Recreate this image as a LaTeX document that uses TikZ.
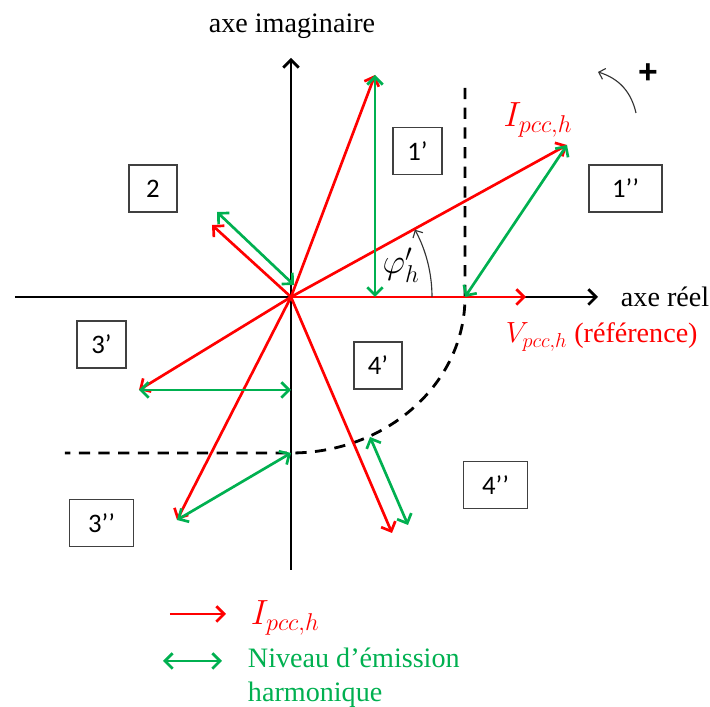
\documentclass[tikz,border=0pt]{standalone}
\usepackage{fontspec}
\setmainfont{Liberation Serif}
\newfontfamily\zonefont{Carlito}
\newfontfamily\signfont{Liberation Sans}
\usetikzlibrary{arrows.meta}
\colorlet{courant}{red}
\definecolor{emis}{RGB}{0,176,80}
\tikzset{
  barb/.tip={Straight Barb[length=5.5pt,width=11pt]},
  vec/.style={draw=courant,line width=1.9pt,-barb},
  emi/.style={draw=emis,line width=1.9pt,barb-barb},
  axe/.style={draw=black,line width=1.9pt,-barb},
  bound/.style={draw=black,line width=2pt,dash pattern=on 8pt off 6pt},
  thinarr/.style={draw=black!80,line width=0.8pt,-{Straight Barb[length=4pt,width=8pt]}},
  zone/.style={draw=black!75,line width=0.9pt,fill=white,inner sep=0pt,
    minimum width=#1,minimum height=33.4pt,font=\zonefont\fontsize{19}{22}\selectfont},
  mlab/.style={font=\fontsize{23}{26}\selectfont}
}

\begin{document}
\begin{tikzpicture}[x=0.025cm,y=0.025cm,font=\fontsize{20}{24}\selectfont]
  \useasboundingbox (-291,-410) rectangle (419,297);
  % axes
  \coordinate (O) at (0,0);
  \coordinate (xa) at (-276,0); \coordinate (xb) at (307,0);
  \coordinate (ya) at (0,-273); \coordinate (yb) at (0,239);
  \draw[axe] (xa) -- (xb);
  \draw[axe] (ya) -- (yb);
  \node (ylab) at (1,271) {axe imaginaire};
  \node[anchor=west] (xlab) at (325,0) {axe r\'eel};
  % limite du niveau d'emission
  \coordinate (dtop) at (174,209); \coordinate (dmid) at (174,0);
  \coordinate (dleft) at (-226,-156);
  \draw[bound] (dtop) -- (dmid) arc[start angle=0,end angle=-90,x radius=174,y radius=156] -- (dleft);
  % courants
  \coordinate (i1) at (84,222);   \coordinate (iI) at (276,152);
  \coordinate (iV) at (235,0);    \coordinate (i2) at (-79,72);
  \coordinate (i3a) at (-152,-93); \coordinate (i3b) at (-114,-223);
  \coordinate (i4) at (101,-236);
  \foreach \t in {i1,iI,iV,i2,i3a,i3b,i4} {\draw[vec] (O) -- (\t);}
  % niveaux d'emission
  \coordinate (e1) at (84,0);     \coordinate (eI) at (174,0);
  \coordinate (e2a) at (-74,85);  \coordinate (e2b) at (3,12);
  \coordinate (e3a) at (0,-93);   \coordinate (e3b) at (0,-156);
  \coordinate (e4a) at (79,-140); \coordinate (e4b) at (117,-228);
  \draw[emi] (i1) -- (e1);
  \draw[emi] (iI) -- (eI);
  \draw[emi] (e2a) -- (e2b);
  \draw[emi] (i3a) -- (e3a);
  \draw[emi] (i3b) -- (e3b);
  \draw[emi] (e4a) -- (e4b);
  % angle et sens
  \coordinate (aS) at (141,0);
  \draw[thinarr] (aS) arc[start angle=0,end angle=28.5,radius=141];
  \node[mlab] (phi) at (110,32) {$\varphi'_h$};
  \coordinate (rS) at (345,184); \coordinate (rE) at (307,225);
  \draw[thinarr] (rS) to[bend right=30] (rE);
  \node[font=\signfont\bfseries\fontsize{24}{26}\selectfont] (plus) at (357,223) {+};
  \node[mlab,text=courant] (ilab) at (247,177) {$I_{pcc,h}$};
  \node[anchor=west,text=courant] (vlab) at (210,-40) {{\fontsize{21}{24}\selectfont$V_{pcc,h}$} (r\'ef\'erence)};
  % zones
  \node[zone=35pt] (z1a) at (126.5,146) {1’};
  \node[zone=52pt] (z1b) at (334.5,108.5) {1’’};
  \node[zone=34pt] (z2) at (-138,108.5) {2};
  \node[zone=35pt] (z3a) at (-189.5,-47.5) {3’};
  \node[zone=46pt] (z3b) at (-189.5,-226) {3’’};
  \node[zone=34pt] (z4a) at (87,-68.5) {4’};
  \node[zone=45pt] (z4b) at (204.5,-188) {4’’};
  % legende
  \coordinate (lr1) at (-121,-317); \coordinate (lr2) at (-65,-317);
  \draw[vec] (lr1) -- (lr2);
  \node[mlab,anchor=west,text=courant] (lI) at (-45,-321) {$I_{pcc,h}$};
  \coordinate (lg1) at (-128,-364); \coordinate (lg2) at (-69,-364);
  \draw[emi] (lg1) -- (lg2);
  \node[anchor=base west,text=emis] (lN) at (-48,-371) {Niveau d’émission};
  \node[anchor=base west,text=emis] (lH) at (-48,-405) {harmonique};
\end{tikzpicture}
\end{document}
